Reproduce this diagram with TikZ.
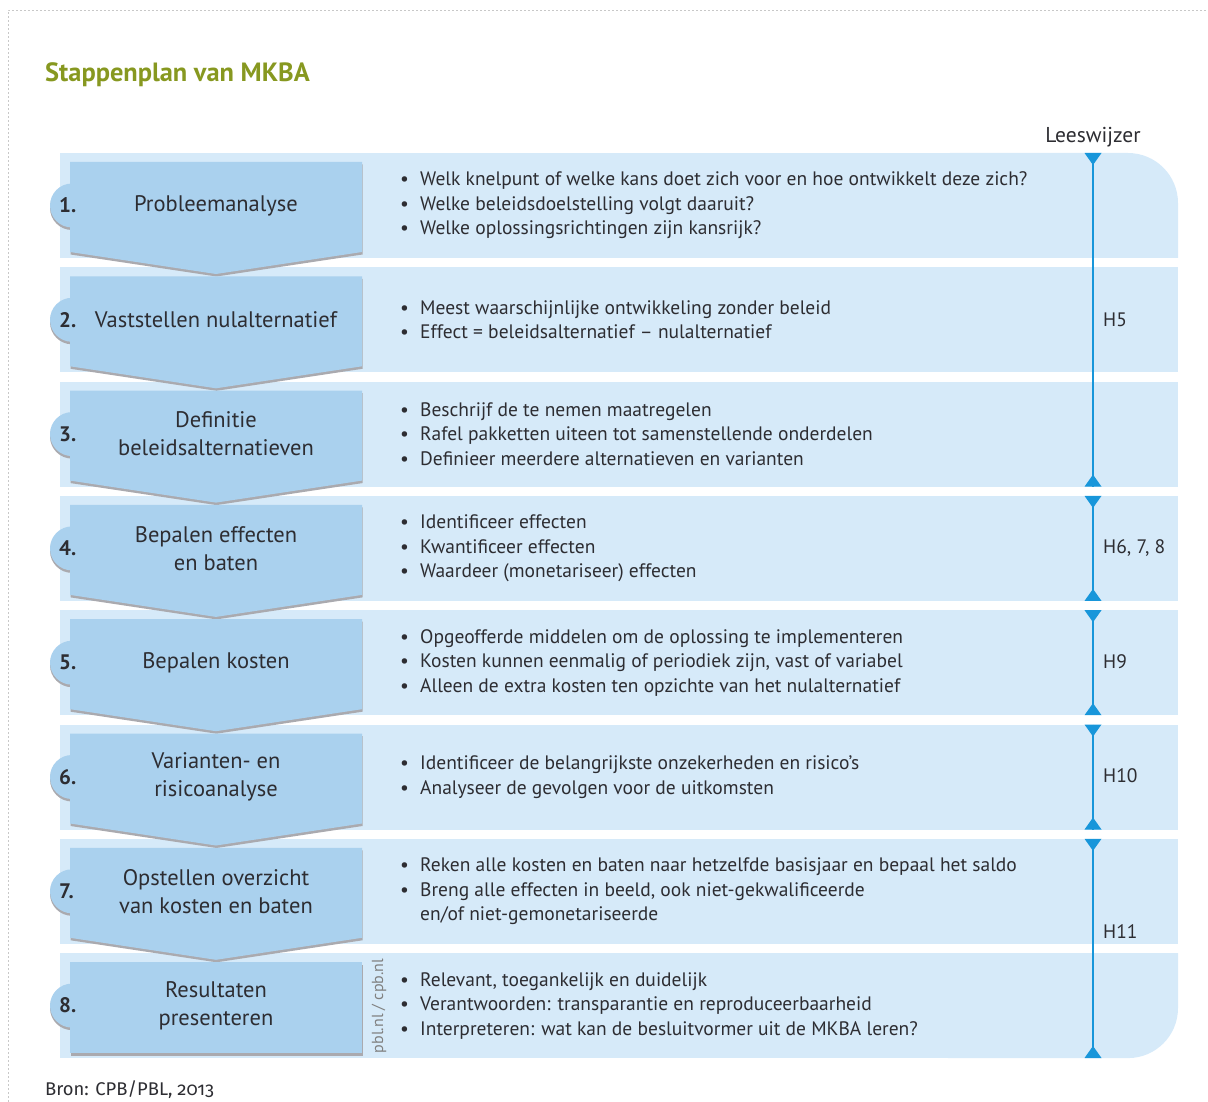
\documentclass[tikz,border=0pt]{standalone}
\usepackage{fontspec}
\setmainfont{PT Sans}
\newfontfamily\oldnum[Numbers=OldStyle]{Fira Sans}

\definecolor{bandblue}{RGB}{214,234,249}
\definecolor{boxblue}{RGB}{170,209,238}
\definecolor{shadowgray}{RGB}{170,170,175}
\definecolor{lwblue}{RGB}{24,150,218}
\definecolor{ink}{RGB}{45,45,50}
\definecolor{titlegreen}{RGB}{135,152,32}
\definecolor{framegray}{RGB}{200,200,200}

\newcommand\bul{\makebox[20pt][l]{\textbullet}}

\begin{document}
\begin{tikzpicture}[x=1pt,y=-1pt,
  band/.style={fill=bandblue},
  stepbox/.style={fill=boxblue},
  stepshadow/.style={fill=shadowgray},
  numlbl/.style={anchor=west, inner sep=0, font=\fontsize{21}{24}\selectfont\bfseries, text=ink},
  steplbl/.style={align=center, inner sep=0, font=\fontsize{22.5}{28}\selectfont, text=ink},
  bullets/.style={anchor=west, align=left, inner sep=0, font=\fontsize{19.5}{24.5}\selectfont, text=ink},
  lwline/.style={draw=lwblue, line width=2.4pt},
  lwtip/.style={fill=lwblue},
  chap/.style={anchor=west, inner sep=0, font=\fontsize{19.5}{22}\selectfont, text=ink},
  frame/.style={draw=framegray, line width=0.8pt, dash pattern=on 2pt off 2pt}
]
\useasboundingbox (0,0) rectangle (1208,1102);

% outer frame
\coordinate (fTL) at (8,10);
\coordinate (fTR) at (1208,10);
\coordinate (fBL) at (8,1102);
\draw[frame] (fBL) -- (fTL) -- (fTR);

% title
\node[anchor=west, inner sep=0, font=\fontsize{26.4}{30}\selectfont\bfseries, text=titlegreen] (title) at (45,75) {Stappenplan van MKBA};

% background bands
\foreach \i in {1,...,8} {
  \pgfmathsetmacro\T{153+114.3*(\i-1)}
  \pgfmathsetmacro\B{\T+105}
  \ifnum\i=1
    \begin{scope}
      \clip (60,\T) rectangle (1178,\B);
      \fill[band, rounded corners=50pt] (900,\T) rectangle (1178,\B+120);
      \fill[band] (60,\T) rectangle (1000,\B);
    \end{scope}
  \else\ifnum\i=8
    \begin{scope}
      \clip (60,\T) rectangle (1178,\B);
      \fill[band, rounded corners=50pt] (900,\T-120) rectangle (1178,\B);
      \fill[band] (60,\T) rectangle (1000,\B);
    \end{scope}
  \else
    \fill[band] (60,\T) rectangle (1178,\B);
  \fi\fi
}

% step boxes (chevrons with a round tab on the left)
\foreach \i in {1,...,8} {
  \pgfmathsetmacro\T{153+114.3*(\i-1)}
  \ifnum\i<8
    \fill[stepshadow, shift={(0.5,2.5)}] (70,\T+9) -- (362,\T+9) -- (362,\T+99) -- (216,\T+121) -- (70,\T+99) -- cycle;
  \else
    \fill[stepshadow, shift={(0.5,2.5)}] (70,\T+9) rectangle (362,\T+100);
  \fi
  \fill[stepshadow, shift={(0,2.5)}] (72,\T+52.5) circle[radius=22];
  \fill[stepbox] (72,\T+52.5) circle[radius=22];
  \ifnum\i<8
    \fill[stepbox] (70,\T+9) -- (362,\T+9) -- (362,\T+99) -- (216,\T+121) -- (70,\T+99) -- cycle;
  \else
    \fill[stepbox] (70,\T+9) rectangle (362,\T+100);
  \fi
  \node[numlbl] (n\i) at (59,\T+52.5) {\i.};
}

% step titles
\node[steplbl] (s1) at (216,205.5) {Probleemanalyse};
\node[steplbl] (s2) at (216,319.8) {Vaststellen nulalternatief};
\node[steplbl] (s3) at (216,434.1) {Definitie\\beleidsalternatieven};
\node[steplbl] (s4) at (216,548.4) {Bepalen effecten\\en baten};
\node[steplbl] (s5) at (216,662.7) {Bepalen kosten};
\node[steplbl] (s6) at (216,777.0) {Varianten- en\\risicoanalyse};
\node[steplbl] (s7) at (216,891.3) {Opstellen overzicht\\van kosten en baten};
\node[steplbl] (s8) at (216,1005.6) {Resultaten\\presenteren};

% credit line
\node[rotate=90, inner sep=0, font=\fontsize{16}{18}\selectfont, text=gray] (credit) at (379,1006) {pbl.nl / cpb.nl};

% bullet lists
\node[bullets] (b1) at (400,205.5) {\bul Welk knelpunt of welke kans doet zich voor en hoe ontwikkelt deze zich?\\\bul Welke beleidsdoelstelling volgt daaruit?\\\bul Welke oplossingsrichtingen zijn kansrijk?};
\node[bullets] (b2) at (400,319.8) {\bul Meest waarschijnlijke ontwikkeling zonder beleid\\\bul Effect = beleidsalternatief – nulalternatief};
\node[bullets] (b3) at (400,434.1) {\bul Beschrijf de te nemen maatregelen\\\bul Rafel pakketten uiteen tot samenstellende onderdelen\\\bul Definieer meerdere alternatieven en varianten};
\node[bullets] (b4) at (400,548.4) {\bul Identificeer effecten\\\bul Kwantificeer effecten\\\bul Waardeer (monetariseer) effecten};
\node[bullets] (b5) at (400,662.7) {\bul Opgeofferde middelen om de oplossing te implementeren\\\bul Kosten kunnen eenmalig of periodiek zijn, vast of variabel\\\bul Alleen de extra kosten ten opzichte van het nulalternatief};
\node[bullets] (b6) at (400,777.0) {\bul Identificeer de belangrijkste onzekerheden en risico’s\\\bul Analyseer de gevolgen voor de uitkomsten};
\node[bullets] (b7) at (400,891.3) {\bul Reken alle kosten en baten naar hetzelfde basisjaar en bepaal het saldo\\\bul Breng alle effecten in beeld, ook niet-gekwalificeerde\\\hspace*{20pt}en/of niet-gemonetariseerde};
\node[bullets] (b8) at (400,1005.6) {\bul Relevant, toegankelijk en duidelijk\\\bul Verantwoorden: transparantie en reproduceerbaarheid\\\bul Interpreteren: wat kan de besluitvormer uit de MKBA leren?};

% reading guide column
\node[inner sep=0, font=\fontsize{21.5}{24}\selectfont, text=ink] (lw) at (1093,137) {Leeswijzer};
\foreach \name/\top/\bot in {g1/153/486.6, g2/495.9/600.9, g3/610.2/715.2, g4/724.5/829.5, g5/838.8/1058} {
  \coordinate (\name t) at (1093,\top);
  \coordinate (\name b) at (1093,\bot);
  \draw[lwline] (\name t) -- (\name b);
  \fill[lwtip] (1084.5,\top) -- (1101.5,\top) -- (1093,\top+12) -- cycle;
  \fill[lwtip] (1084.5,\bot) -- (1101.5,\bot) -- (1093,\bot-12) -- cycle;
}
\node[chap] (h5) at (1103,320) {H5};
\node[chap] (h6) at (1103,548) {H6, 7, 8};
\node[chap] (h9) at (1103,662) {H9};
\node[chap] (h10) at (1103,776) {H10};
\node[chap] (h11) at (1103,932) {H11};

% source
\node[anchor=west, inner sep=0, font=\fontsize{18.4}{21}\selectfont\oldnum, text=ink] (src) at (45,1090) {Bron: CPB/PBL, 2013};
\end{tikzpicture}
\end{document}
